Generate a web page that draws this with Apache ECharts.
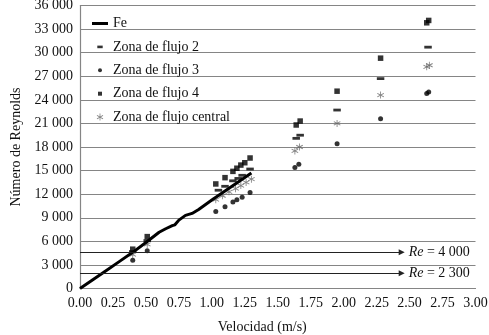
<!DOCTYPE html>
<html><head><meta charset="utf-8">
<script src="https://cdn.jsdelivr.net/npm/echarts@6/dist/echarts.min.js"></script>
<style>html,body{margin:0;padding:0;background:#fff}#c{width:489px;height:335px}</style>
</head><body><div id="c"></div>
<script>
// ---- data ----
const feV  = [0, 0.1, 0.2, 0.3, 0.4, 0.5, 0.6, 0.65, 0.7, 0.72, 0.75, 0.8, 0.85, 0.9, 1.0, 1.1, 1.2, 1.3];
const feRe = [0, 1150, 2300, 3450, 4600, 5850, 7150, 7600, 8000, 8100, 8700, 9300, 9550, 10050, 11250, 12400, 13550, 14700];
const zone2 = [[0.40,4700],[0.51,6100],[1.05,12500],[1.10,13000],[1.16,13700],[1.20,14000],[1.23,14400],[1.29,15200],[1.64,19100],[1.67,19500],[1.95,22700],[2.28,26700],[2.64,30700]];
const zone3 = [[0.40,3600],[0.51,4800],[1.03,9800],[1.10,10400],[1.16,11000],[1.19,11300],[1.23,11600],[1.29,12200],[1.63,15400],[1.66,15800],[1.95,18400],[2.28,21600],[2.63,24800],[2.645,25000]];
const zone4 = [[0.40,5000],[0.51,6600],[1.03,13300],[1.10,14100],[1.16,14900],[1.19,15300],[1.22,15700],[1.25,16000],[1.29,16600],[1.64,20800],[1.67,21300],[1.95,25100],[2.28,29300],[2.63,33800],[2.645,34100]];
const central = [[0.40,4300],[0.51,5600],[1.03,11300],[1.08,11800],[1.13,12300],[1.18,12700],[1.22,13100],[1.26,13500],[1.30,13900],[1.63,17500],[1.665,18000],[1.95,21000],[2.28,24600],[2.63,28200],[2.65,28400]];
const seriesNames = ['Fe','Zona de flujo 2','Zona de flujo 3','Zona de flujo 4','Zona de flujo central'];
const refLineRe = [4600, 1950];
const refLabels = ['4 000', '2 300'];
const refArrowEnd = 2.44;
const yTicks = {min: 0, max: 36000, step: 3000};
const xTicks = {min: 0, max: 3, step: 0.25};

// ---- styles ----
const FONT = 'Liberation Serif';
const GRID = '#858585';
const STAR = 'path://M7.6 3.5h0.8v7h-0.8zM10.806 9.14L4.744 5.64L5.194 4.86L11.256 8.36zM11.256 5.64L5.194 9.14L4.744 8.36L10.806 4.86z';
const box = 'M0 0M16 14';
const icons = [
  'path://' + box + 'M0 5.5h16v3h-16z',
  'path://' + box + 'M5.3 5.7h5.4v2.6h-5.4z',
  'path://' + box + 'M6 7a2 2 0 1 0 4 0a2 2 0 1 0 -4 0z',
  'path://' + box + 'M6 5h4v4h-4z',
  'path://' + box + 'M7.6 3.5h0.8v7h-0.8zM10.806 9.14L4.744 5.64L5.194 4.86L11.256 8.36zM11.256 5.64L5.194 9.14L4.744 8.36L10.806 4.86z'
];
const fmtThousands = v => String(v).replace(/\B(?=(\d{3})+(?!\d))/g, ' ');

const markLineData = refLineRe.map((re, i) => [
  {coord: [0, re], symbol: 'none'},
  {coord: [refArrowEnd, re], symbol: 'triangle', symbolSize: [6, 6], symbolRotate: -90,
   label: {show: true, position: 'end', formatter: '{i|Re} = ' + refLabels[i], distance: 7,
     color: '#111', fontFamily: FONT, fontSize: 14,
     rich: {i: {fontStyle: 'italic', fontFamily: FONT, fontSize: 14, color: '#111'}}}}
]);

const chart = echarts.init(document.getElementById('c'), null, {renderer: 'canvas'});
chart.setOption({
  animation: false,
  textStyle: {fontFamily: FONT},
  grid: {left: 80, right: 13.5, top: 5.5, bottom: 46.5, containLabel: false, outerBoundsMode: 'none'},
  legend: {
    orient: 'vertical', left: 87, top: 11.5, itemWidth: 16, itemHeight: 14, itemGap: 9.4,
    textStyle: {fontFamily: FONT, fontSize: 14, color: '#111'},
    data: seriesNames.map((n, i) => ({name: n, icon: icons[i]}))
  },
  xAxis: {
    type: 'value', min: xTicks.min, max: xTicks.max, interval: xTicks.step,
    name: 'Velocidad (m/s)', nameLocation: 'middle', nameGap: 32,
    nameTextStyle: {fontFamily: FONT, fontSize: 14, color: '#111', padding: [0, 31, 0, 0]},
    axisLine: {show: true, lineStyle: {color: GRID, width: 1.2}},
    axisTick: {show: false},
    splitLine: {show: false},
    axisLabel: {formatter: v => v.toFixed(2), fontFamily: FONT, fontSize: 14, color: '#111', margin: 7.5}
  },
  yAxis: {
    type: 'value', min: yTicks.min, max: yTicks.max, interval: yTicks.step,
    name: 'Número de Reynolds', nameLocation: 'middle', nameGap: 55,
    nameTextStyle: {fontFamily: FONT, fontSize: 14, color: '#111'},
    axisLine: {show: true, lineStyle: {color: GRID, width: 1.2}},
    axisTick: {show: false},
    splitLine: {show: true, lineStyle: {color: GRID, width: 1.2}},
    axisLabel: {formatter: fmtThousands, fontFamily: FONT, fontSize: 14, color: '#111', margin: 7}
  },
  series: [
    {name: seriesNames[0], type: 'line', data: feV.map((v, i) => [v, feRe[i]]), showSymbol: false,
     lineStyle: {color: '#000', width: 3}, itemStyle: {color: '#000'}, z: 3,
     markLine: {silent: true, symbol: ['none', 'triangle'], lineStyle: {color: '#222', width: 1.2, type: 'solid'},
       data: markLineData}},
    {name: seriesNames[1], type: 'scatter', data: zone2, symbol: 'rect', symbolSize: [7.5, 2.8], itemStyle: {color: '#000'}},
    {name: seriesNames[2], type: 'scatter', data: zone3, symbol: 'circle', symbolSize: 5, itemStyle: {color: '#000'}},
    {name: seriesNames[3], type: 'scatter', data: zone4, symbol: 'rect', symbolSize: 5.5, itemStyle: {color: '#000'}},
    {name: seriesNames[4], type: 'scatter', data: central, symbol: STAR, symbolSize: 7, itemStyle: {color: '#666'}}
  ]
});
</script></body></html>
